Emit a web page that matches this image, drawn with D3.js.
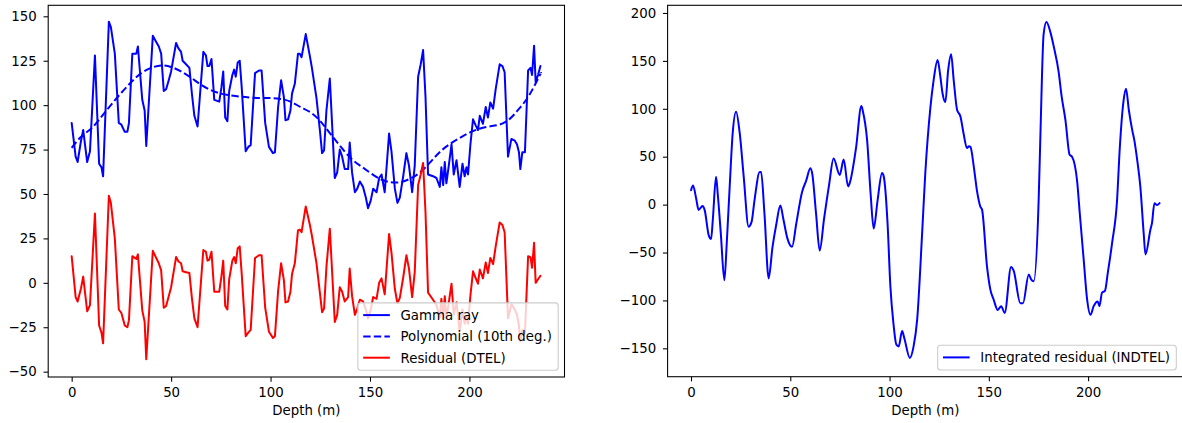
<!DOCTYPE html>
<html><head><meta charset="utf-8">
<script src="https://cdn.jsdelivr.net/npm/d3@7"></script>
<style>
html,body{margin:0;padding:0;background:#fff;}
svg{display:block;font-family:"DejaVu Sans",sans-serif;}
</style></head><body>
<svg id="chart" width="1182" height="423"></svg>
<script>
// ---------- data ----------
const depth = [0,2,3,4.7,5.8,7.8,9.2,11.7,13.8,15,15.8,18.7,19.7,21.7,23.7,25,26.7,28,28.8,30.5,32.5,33.3,35.5,36.7,37.5,40.8,42.3,43.8,45,46.3,47.5,48.8,50,52.5,53.7,55,55.8,57.5,59.2,60.5,61.7,63.3,66.2,67.5,68.3,69.2,70.3,71.7,74.2,75.3,76.2,77.2,78.3,79.2,80.8,81.7,82.5,83.5,84.5,85.5,87.5,88.8,90,92.2,94.2,95.5,97.3,99.2,101.2,102.2,103.8,105.3,106.7,107.5,108.8,110,110.8,112.2,113.8,114.7,115.6,117.7,119.7,120.8,123.1,124.8,125.9,126.9,128.1,129.8,132.3,133.5,134.8,136,137.3,139,139.8,141,142.4,143.6,144.9,146.5,147.9,149,150.3,151.6,153.3,154.6,155.8,157.4,159.6,160.8,162.5,163.8,165,166.7,168.3,169.6,171.2,172.5,174.2,175.5,176.7,177.9,179.2,181.7,183.4,185.1,185.9,186.8,187.6,188.4,189.5,191,192.1,193.5,195.1,196.5,197.6,198.5,199.3,200.5,201.8,203.2,204.3,205.2,206.8,208.2,209.3,210.5,211.9,213.2,215.2,216.6,217.7,219.4,221.1,222.8,223.9,224.9,225.6,226.6,227.9,229.5,230.7,231.5,232.5,233.3,234.5,235.7];
const gammaRay = [90,71,68,80,86,68,74,128,67,65,60,147,144,129,90,89,85,85,90,129,129,133,103,97,77,139,136,133,129,108,109,114,119,135,132,130,125,123,121,106,94,88,130,128,122,122,126,103,102,110,119,93,91,108,117,120,116,124,125,110,74,76.5,77.5,118,119.5,119.5,90,76.5,73,73.5,99,114,104.5,91.5,92,97,106.5,112,129,129,127,140,128,121,104,86,73,74.5,97,115,59,62,75,71,64,64,79,62,51,53,57,54,48,42,46,53,51,59,61,51,84,74,53,45,48,60,73,66,51,66,116,123,131,105,61,60,59,54,65,55,68,56,65,78,61,69,54,67,60,65,61,78,92,88.5,86,94,89.5,99,93,101.5,98,109,123,122,118.5,71,81,80,78,73.5,64,73.5,73.5,119.5,121,117,133.5,113,117,122];
const residual = [15,-8,-10.5,-3,3.5,-16,-12.5,39,-24,-28,-34,49,45,25,-15,-17,-24,-25,-21,15,13.5,16,-15.5,-22,-43,18,14.5,11,7,-14,-13,-7.5,-2.5,14.5,12,11,6.5,6,5.5,-9,-20,-25,18.5,17.5,12.5,13,17.5,-5,-5,3.5,12.5,-13,-15,2,12.5,14.5,11,19.5,20.5,5,-30,-28,-26.5,14,15.5,15.5,-14,-27.5,-31,-30,-4.5,11,1.5,-11,-10.5,-5,5,11,29.5,30,28.5,43,33,26.5,11,-5.5,-16.5,-14.5,9,30.5,-22,-18,-2.5,-5,-10.5,-8,8,-7.5,-18,-14.5,-9.5,-10.5,-15,-20,-15.5,-8,-9,0,2.5,-6.5,27.5,17,-3.5,-11.5,-8.5,3,15.5,8,-8,6,55,61,67.5,40,-5.5,-9.5,-12.5,-19.5,-9,-20,-7.5,-20,-12,-0.5,-18,-11,-27.5,-15,-23,-19,-23,-7,6.5,2.5,-0.5,7.5,2.5,11.5,5.5,14,10.5,20.5,34,32.5,28.5,-20,-12,-15,-18,-24,-33,-26.5,-28.5,15,14.5,8.5,22.5,0,2,4];
const polyDepth = [0,5,10,15,20,25,30,35,40,45,50,55,60,65,70,75,80,85,90,95,100,105,110,115,120,125,130,135,140,145,150,155,160,165,170,175,180,185,190,195,200,205,210,215,220,225,230,235,236];
const polyFit = [76,82.5,87,93.5,100.5,107,113,118,121,122.3,121.5,119,115.5,111.5,108.5,106.5,105.5,104.8,104.3,104,104,103.5,102,99,96,91,84,77,70.5,66,62,58.5,56.7,56.6,58.5,62,67.5,73.5,78,81.5,84.5,86.7,88,89,92,98,105.5,116,118];
const intDepth = [0,1,2.7,3.8,5,5.8,6.9,8.9,10.1,11,12.6,13.5,15,16.8,18,19.5,21,22.7,24.5,26.5,29,30.5,32,34.6,35.3,37,39.1,41,43,45,46.5,48.5,50.9,53,55.9,58,60.1,61,63,64.8,67,69.5,71.8,74.9,76.9,79.1,80,83.1,85.8,86.5,88.7,90.5,92,94,96.2,97,99,100.4,102,103.4,104.6,106.3,107.5,110.2,112.1,113.9,116.4,118,120.6,122.2,124.2,125.5,126.7,128.1,129.5,131,132.3,134,135.7,137.3,139,140,140.8,142.4,144.1,145.7,146.6,149.1,150.8,152.4,154.5,156.2,158,161.2,162.5,165.9,167.2,170.1,171.3,172.6,175.1,176,177.6,179,181,182.7,185.2,186.6,188.6,190.7,191.9,194.5,195.8,197.8,199.5,201.2,202.8,204.8,205.7,207,208.5,209.9,212.1,214.6,215.9,217.9,219.1,220.5,222.2,223.3,224.7,226.3,228,228.9,231.4,232.2,233.4,234.7,236];
const integrated = [15,20,5,-5.5,-3,-1.5,-6,-32,-36,-15,29,10,-30,-79,-40,20,75,97,75,30,-23,-18,5,34,34,-10,-77,-45,-20,-1,-15,-35,-44,-20,13,25,38,33,-10,-48,-15,20,48,31,47,19,23,59,103,98,67,10,-25,5,33,30,-20,-85,-125,-146,-148,-132,-140,-160,-148,-120,-30,33,102,130,151,135,116,107,140,157,130,99,92,74,59,61,60,40,13.5,-2,-5.5,-65,-89,-99,-110,-106,-113,-65,-69,-103,-103,-73,-78,-80,5,74,178,190.6,180,165,138,114,88,52,50,24,-9,-58,-99,-115,-106,-101,-106,-92,-90,-71.5,-40,5,57,109,121,99,78,67,47,19,-30,-52,-26,-19,1.5,-0.5,1.5];
const xTicks = [0,50,100,150,200];
const leftYTicks = [-50,-25,0,25,50,75,100,125,150];
const rightYTicks = [-150,-100,-50,0,50,100,150,200];
const xLabel = "Depth (m)";
const leftLegend = ["Gamma ray","Polynomial (10th deg.)","Residual (DTEL)"];
const rightLegend = ["Integrated residual (INDTEL)"];

// ---------- drawing ----------
const svg = d3.select("#chart");
const FS = 13.33, LW = 2, TICK = 4.67;
const fmt = d3.format("");

function panel(cfg){
  const g = svg.append("g");
  const x = d3.scaleLinear().domain([-11.8, 247.8]).range([cfg.x0, cfg.x1]);
  const y = d3.scaleLinear().domain(cfg.yDomain).range([cfg.y1, cfg.y0]);
  const cid = "clip" + cfg.id;
  svg.append("clipPath").attr("id", cid).append("rect")
    .attr("x", cfg.x0).attr("y", cfg.y0).attr("width", cfg.x1 - cfg.x0).attr("height", cfg.y1 - cfg.y0);
  const plot = g.append("g").attr("clip-path", `url(#${cid})`);
  cfg.series.forEach(s => {
    const pts = s.xs.map((d,i)=>[d, s.ys[i]]);
    const line = d3.line().x(p=>x(p[0])).y(p=>y(p[1])).curve(s.curve || d3.curveLinear);
    plot.append("path").attr("d", line(pts)).attr("fill","none")
      .attr("stroke", s.color).attr("stroke-width", LW)
      .attr("stroke-dasharray", s.dash || null)
      .attr("stroke-linejoin","round").attr("stroke-linecap", s.dash ? "butt" : "round");
  });
  // axes
  const xa = g.append("g").attr("transform",`translate(0,${cfg.y1})`)
    .call(d3.axisBottom(x).tickValues(xTicks).tickSize(TICK).tickPadding(6).tickFormat(fmt));
  const ya = g.append("g").attr("transform",`translate(${cfg.x0},0)`)
    .call(d3.axisLeft(y).tickValues(cfg.yTicks).tickSize(TICK).tickPadding(6.8).tickFormat(fmt));
  [xa, ya].forEach(a => {
    a.select(".domain").remove();
    a.selectAll("line").attr("stroke","#000").attr("stroke-width",1.07);
    a.selectAll("text").attr("fill","#000").style("font-size", FS+"px").style("font-family","DejaVu Sans");
  });
  // spines
  g.append("rect").attr("x", cfg.x0).attr("y", cfg.y0)
    .attr("width", cfg.x1 - cfg.x0).attr("height", cfg.y1 - cfg.y0)
    .attr("fill","none").attr("stroke","#000").attr("stroke-width",1.07);
  // x label
  g.append("text").attr("x", (cfg.x0 + cfg.x1)/2).attr("y", 414.5)
    .attr("text-anchor","middle").style("font-size", FS+"px").attr("fill","#000").text(xLabel);
  // legend
  const lg = g.append("g");
  const rowH = 21.3, pad = 5.33, hl = 26.67, htp = 10.67;
  const texts = cfg.legend.map((l,i)=> lg.append("text").text(l.label).style("font-size", FS+"px").attr("fill","#000"));
  const tw = d3.max(texts, t => t.node().getComputedTextLength());
  const bw = pad + hl + htp + tw + pad + 1;
  const bh = cfg.legend.length * rowH + 3.5;
  const bx = cfg.legRight - bw, by = cfg.legBottom - bh;
  lg.insert("rect", ":first-child").attr("x", bx).attr("y", by).attr("width", bw).attr("height", bh)
    .attr("rx", 3).attr("fill","#fff").attr("fill-opacity",0.8).attr("stroke","#cccccc").attr("stroke-width",1.07);
  cfg.legend.forEach((l,i)=>{
    const cy = by + 10.5 + 1.7 + i*rowH;
    lg.append("line").attr("x1", bx + pad).attr("x2", bx + pad + hl).attr("y1", cy).attr("y2", cy)
      .attr("stroke", l.color).attr("stroke-width", LW).attr("stroke-dasharray", l.dash || null);
    texts[i].attr("x", bx + pad + hl + htp).attr("y", cy + 4.8);
    texts[i].raise();
  });
}

panel({
  id: "L", x0: 48.2, x1: 564.5, y0: 5.3, y1: 377, yDomain: [-53, 156.2], yTicks: leftYTicks,
  series: [
    {xs: depth, ys: gammaRay, color: "#0000ff"},
    {xs: polyDepth, ys: polyFit, color: "#0000ff", dash: "7.4,3.2", curve: d3.curveNatural},
    {xs: depth, ys: residual, color: "#ff0000"}
  ],
  legend: [
    {label: leftLegend[0], color: "#0000ff"},
    {label: leftLegend[1], color: "#0000ff", dash: "7.4,3.2"},
    {label: leftLegend[2], color: "#ff0000"}
  ],
  legRight: 558.2, legBottom: 370.3
});

panel({
  id: "R", x0: 667.6, x1: 1183, y0: 5.3, y1: 376.7, yDomain: [-179.6, 208], yTicks: rightYTicks,
  series: [
    {xs: intDepth, ys: integrated, color: "#0000ff", curve: d3.curveMonotoneX}
  ],
  legend: [
    {label: rightLegend[0], color: "#0000ff"}
  ],
  legRight: 1176.3, legBottom: 370
});
</script>
</body></html>
